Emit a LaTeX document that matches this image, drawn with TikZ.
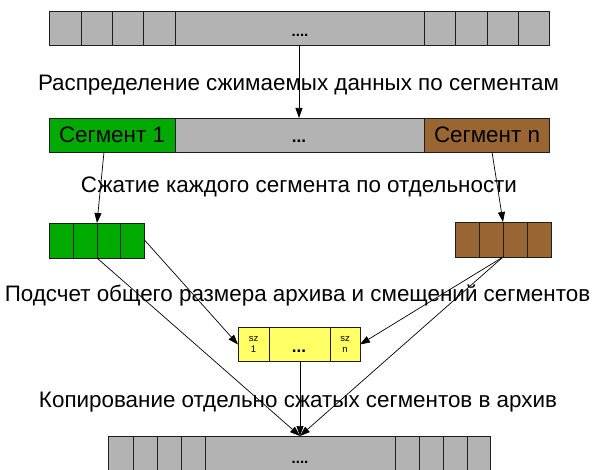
\documentclass[tikz,border=0pt]{standalone}
\usepackage{fontspec}
\setmainfont{Liberation Sans}
\usetikzlibrary{arrows.meta}
\definecolor{cgray}{RGB}{179,179,179}
\definecolor{cgreen}{RGB}{0,170,0}
\definecolor{cbrown}{RGB}{153,102,51}
\definecolor{cyellow}{RGB}{255,255,102}
\definecolor{cline}{RGB}{30,30,30}
\tikzset{
  cell/.style={draw=cline, line width=0.9pt, inner sep=0pt, outer sep=0pt, anchor=north west},
  lbl/.style={font=\fontsize{22.4}{26}\selectfont, anchor=base, inner sep=0pt},
  conn/.style={draw=black, line width=0.7pt},
  arr/.style={conn, -{Triangle[length=10pt,width=7pt]}},
}
\begin{document}
\begin{tikzpicture}[x=1pt,y=-1pt]
\useasboundingbox (0,0) rectangle (593,470);
% top bar
\foreach \a/\b [count=\i] in {49/81,81/112,112/143,143/175,175/424,424/455,455/487,487/518,518/549}{
  \node[cell, fill=cgray, minimum width={(\b-\a)*1pt}, minimum height=34pt] (t\i) at (\a,11) {};
}
\node[font=\bfseries\fontsize{15}{15}\selectfont, anchor=base, inner sep=0pt] (tdots) at (300,37) {....};
\node[inner sep=0pt, minimum width=500pt, minimum height=34pt] (top) at (299,28) {};
% label 1
\node[lbl] (l1) at (298.5,91) {Распределение сжимаемых данных по сегментам};
% segment bar
\node[cell, fill=cgreen, minimum width=126pt, minimum height=34pt] (seg1) at (49,118) {};
\node[cell, fill=cgray, minimum width=249pt, minimum height=34pt] (segm) at (175,118) {};
\node[cell, fill=cbrown, minimum width=125pt, minimum height=34pt] (segn) at (424,118) {};
\node[font=\fontsize{22.4}{22}\selectfont, anchor=base, inner sep=0pt] (s1t) at (112,143) {Сегмент 1};
\node[font=\bfseries\fontsize{17}{17}\selectfont, anchor=base, inner sep=0pt] (smt) at (299,143) {...};
\node[font=\fontsize{22.4}{22}\selectfont, anchor=base, inner sep=0pt] (snt) at (487,143) {Сегмент n};
% label 2
\node[lbl] (l2) at (299,193) {Сжатие каждого сегмента по отдельности};
% green block
\foreach \a [count=\i] in {49,73,97,120}{
  \node[cell, fill=cgreen, minimum width=24pt, minimum height=35pt] (g\i) at (\a,223) {};
}
% brown block
\foreach \a [count=\i] in {455,479,503,527}{
  \node[cell, fill=cbrown, minimum width=24pt, minimum height=35pt] (b\i) at (\a,222) {};
}
% label 3
\node[lbl] (l3) at (297.5,301) {Подсчет общего размера архива и смещений сегментов};
% yellow block
\node[cell, fill=cyellow, minimum width=31pt, minimum height=34pt] (y1) at (238,327) {};
\node[cell, fill=cyellow, minimum width=61pt, minimum height=34pt] (y2) at (269,327) {};
\node[cell, fill=cyellow, minimum width=30pt, minimum height=34pt] (y3) at (330,327) {};
\node[font=\fontsize{9.5}{11}\selectfont, align=center, inner sep=0pt] (y1t) at (y1.center) {sz\\1};
\node[font=\bfseries\fontsize{17}{17}\selectfont, anchor=base, inner sep=0pt] (y2t) at (299,352) {...};
\node[font=\fontsize{9.5}{11}\selectfont, align=center, inner sep=0pt] (y3t) at (y3.center) {sz\\n};
% label 4
\node[lbl] (l4) at (298,407) {Копирование отдельно сжатых сегментов в архив};
% bottom bar
\foreach \a/\b [count=\i] in {108/133,133/157,157/181,181/205,205/395,395/419,419/443,443/467,467/490}{
  \node[cell, fill=cgray, minimum width={(\b-\a)*1pt}, minimum height=40pt] (o\i) at (\a,436) {};
}
\node[font=\bfseries\fontsize{15}{15}\selectfont, anchor=base, inner sep=0pt] (odots) at (300,463) {....};
\coordinate (out) at (300,436);
% connectors
\draw[arr] (top.south) -- (segm.north -| top.south);
\draw[arr] ([xshift=-8pt]seg1.south) -- (g2.north east);
\draw[arr] ([xshift=5.5pt]segn.south) -- (b2.north east);
\draw[arr] ([yshift=1pt]g4.east) -- ([yshift=-0.5pt]y1.west);
\draw[arr] (b3.south west) -- ([yshift=-0.5pt]y3.east);
\draw[arr] (g2.south east) -- (out);
\draw[arr] (y2.south -| out) -- (out);
\draw[arr] (b3.south west) -- (out);
\end{tikzpicture}
\end{document}
